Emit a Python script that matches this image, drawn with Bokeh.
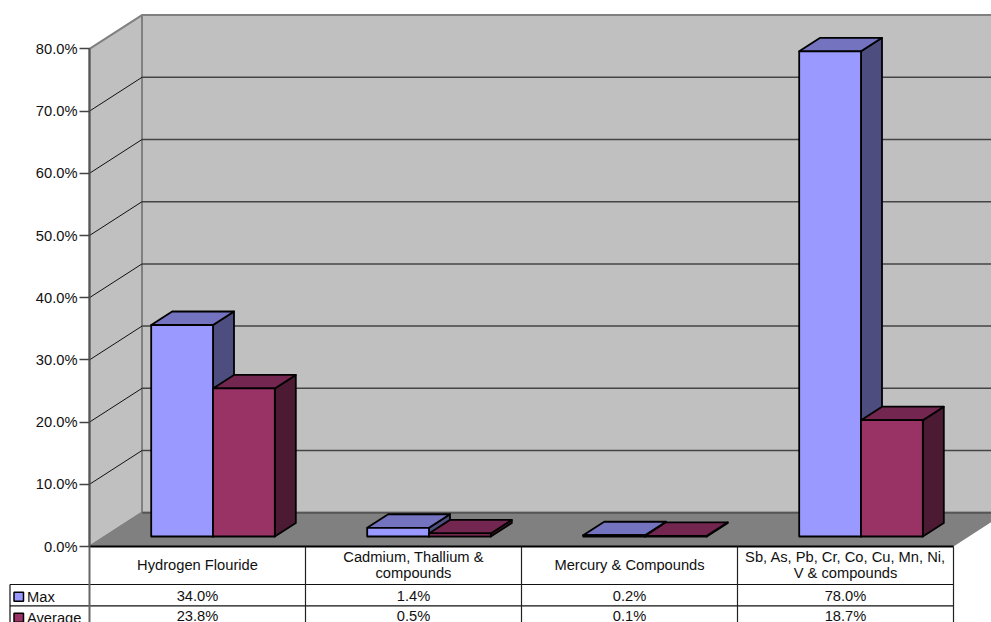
from bokeh.embed import file_html
from bokeh.models import FixedTicker, PrintfTickFormatter
from bokeh.plotting import figure
from bokeh.resources import INLINE
from bokeh.core.properties import value

# Chart data
categories = ["Hydrogen Flouride", "Cadmium, Thallium &\ncompounds", "Mercury & Compounds",
              "Sb, As, Pb, Cr, Co, Cu, Mn, Ni,\nV & compounds"]
series_names = ["Max", "Average"]
max_values = [34.0, 1.4, 0.2, 78.0]
average_values = [23.8, 0.5, 0.1, 18.7]
table_max = ["34.0%", "1.4%", "0.2%", "78.0%"]
table_average = ["23.8%", "0.5%", "0.1%", "18.7%"]
y_ticks = [0, 10, 20, 30, 40, 50, 60, 70, 80]

W, H = 991, 622
LEFT_PX, ZERO_PX = 89, 546        # pixel position of the data origin
CAT_PX, UNIT_PX = 216, 6.22       # pixels per category and per percentage point
DEPTH_DX, DEPTH_DY = 52.5 / CAT_PX, 33.8 / UNIT_PX   # oblique offset of the full floor depth
FONT = value("Liberation Sans")
FONT_SIZE = "14.7px"


def fx(px):
    return (px - LEFT_PX) / CAT_PX


def fy(py):
    return (ZERO_PX - py) / UNIT_PX


p = figure(width=W, height=H, output_backend="svg", toolbar_location=None,
           x_range=(fx(0), fx(W)), y_range=(fy(H), fy(0)),
           min_border=0, min_border_left=0, min_border_right=0,
           min_border_top=0, min_border_bottom=0,
           outline_line_color=None, background_fill_color="white")
p.xaxis.visible = False
p.grid.visible = False

n = len(categories)
top = y_ticks[-1]

# Back wall, left wall and floor of the 3-D box
p.patch([DEPTH_DX, n + DEPTH_DX, n + DEPTH_DX, DEPTH_DX],
        [DEPTH_DY, DEPTH_DY, top + DEPTH_DY, top + DEPTH_DY],
        fill_color="#C0C0C0", line_color="#808080", line_width=2)
p.patch([0, DEPTH_DX, DEPTH_DX, 0], [0, DEPTH_DY, top + DEPTH_DY, top],
        fill_color="#C0C0C0", line_color="#808080", line_width=2)

# Gridlines run along the back wall and down the left wall
for t in y_ticks[1:-1]:
    p.line([DEPTH_DX, n + DEPTH_DX], [t + DEPTH_DY] * 2, line_color="#444444", line_width=1.5)
    p.line([0, DEPTH_DX], [t, t + DEPTH_DY], line_color="#111111", line_width=1)

p.patch([0, n, n + DEPTH_DX, DEPTH_DX], [0, 0, DEPTH_DY, DEPTH_DY],
        fill_color="#808080", line_color=None)
p.line([DEPTH_DX, n + DEPTH_DX], [DEPTH_DY, DEPTH_DY], line_color="#555555", line_width=2)
p.line([0, DEPTH_DX], [0, DEPTH_DY], line_color="#808080", line_width=1.5)

# Bars, drawn as three faces each
BAR_W = 61.8 / CAT_PX
BAR_START = 61.7 / CAT_PX
BAR_DEPTH = 0.4
NEAR = 10 / 33.8   # share of the floor depth in front of the bars
dx0, dy0 = DEPTH_DX * NEAR, DEPTH_DY * NEAR
dx1, dy1 = DEPTH_DX * BAR_DEPTH, DEPTH_DY * BAR_DEPTH
palette = [("#9999FF", "#7373BF", "#4D4D80"), ("#993366", "#732650", "#4D1A33")]

for i in range(n):
    for s, vals in enumerate([max_values, average_values]):
        v = vals[i]
        front, topc, side = palette[s]
        x0 = i + BAR_START + s * BAR_W
        x1 = x0 + BAR_W
        y0, y1 = dy0, dy0 + v
        style = dict(line_color="black", line_width=1.8, line_join="round")
        p.patch([x1, x1 + dx1, x1 + dx1, x1], [y0, y0 + dy1, y1 + dy1, y1], fill_color=side, **style)
        p.patch([x0, x1, x1 + dx1, x0 + dx1], [y1, y1, y1 + dy1, y1 + dy1], fill_color=topc, **style)
        p.patch([x0, x1, x1, x0], [y0, y0, y1, y1], fill_color=front, **style)

# Value axis sits on the front-left edge of the box
ax = p.yaxis[0]
ax.fixed_location = 0
ax.bounds = (0, top)
ax.ticker = FixedTicker(ticks=y_ticks)
ax.formatter = PrintfTickFormatter(format="%.1f%%")
ax.major_tick_out = 10
ax.major_tick_in = 0
ax.minor_tick_out = 0
ax.minor_tick_in = 0
ax.major_tick_line_color = "#444444"
ax.major_tick_line_width = 1.4
ax.axis_line_color = "#555555"
ax.axis_line_width = 2
ax.major_label_text_font = "Liberation Sans"
ax.major_label_text_font_size = FONT_SIZE
ax.major_label_text_color = "#111111"
ax.major_label_standoff = 2

# Data table beneath the chart
TABLE_LEFT = fx(9.5)
ROW_A, ROW_B = fy(584), fy(605.3)
BOTTOM = fy(H)
p.line([0, n], [0, 0], line_color="black", line_width=2)
p.line([TABLE_LEFT, n], [ROW_A, ROW_A], line_color="#111111", line_width=1.2)
p.line([TABLE_LEFT, n], [ROW_B, ROW_B], line_color="#111111", line_width=1.2)
p.line([TABLE_LEFT, TABLE_LEFT], [ROW_A, BOTTOM], line_color="#111111", line_width=1.2)
p.line([0, 0], [0, BOTTOM], line_color="#666666", line_width=2)
for i in range(1, n + 1):
    p.line([i, i], [0, BOTTOM], line_color="#222222", line_width=1.2)

centers = [i + 0.5 for i in range(n)]
text_style = dict(text_font=FONT, text_font_size=FONT_SIZE, text_color="#111111",
                  text_align="center", text_baseline="middle")
p.text(centers, [fy(564.5)] * n, categories, text_line_height=1.0, **text_style)
p.text(centers, [fy(595)] * n, table_max, **text_style)
p.text(centers, [fy(615.5)] * n, table_average, **text_style)

# Legend keys inside the table's first column
for name, py, colors in zip(series_names, [596.2, 617.2], palette):
    p.quad(left=fx(13.5), right=fx(23), bottom=fy(py + 4.5), top=fy(py - 4.5),
           fill_color=colors[0], line_color="black", line_width=1.5)
    p.text([fx(26.5)], [fy(py)], [name], text_font=FONT, text_font_size=FONT_SIZE,
           text_color="#111111", text_align="left", text_baseline="middle")

open("out.html", "w").write(file_html(p, INLINE))
